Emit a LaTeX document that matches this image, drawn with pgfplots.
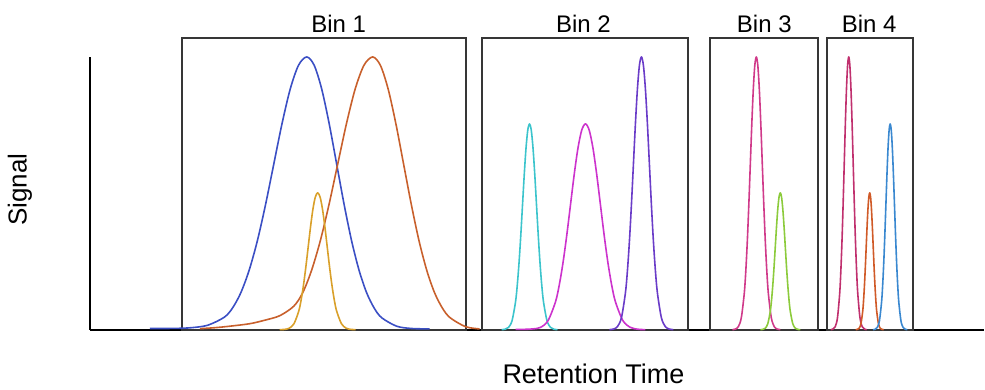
\documentclass[border=0pt]{standalone}
\usepackage{pgfplots}
\pgfplotsset{compat=1.18}
\usepackage{fontspec}
\setmainfont{Liberation Sans}

\definecolor{cBlueA}{HTML}{3B4FC4}
\definecolor{cOrangeA}{HTML}{C8602C}
\definecolor{cGold}{HTML}{D9A02A}
\definecolor{cCyan}{HTML}{3CC4CC}
\definecolor{cMagenta}{HTML}{CC33CC}
\definecolor{cPurple}{HTML}{6A3CC8}
\definecolor{cPink}{HTML}{D03A8A}
\definecolor{cGreen}{HTML}{8CCB3C}
\definecolor{cCrimson}{HTML}{C0306E}
\definecolor{cOrangeB}{HTML}{D05A28}
\definecolor{cBlueB}{HTML}{3A88D0}
\definecolor{boxgray}{HTML}{363636}

\begin{document}
\begin{tikzpicture}
\begin{axis}[
  x=1pt, y=1pt,
  xmin=90, xmax=985, ymin=0, ymax=273,
  axis x line=bottom, axis y line=left,
  axis line style={-, line width=1.8pt, black},
  xtick=\empty, ytick=\empty,
  clip=false,
  every axis plot/.append style={smooth, line width=1.6pt, line join=round, mark=none},
]
% invisible frame fixing the picture size
\path (axis cs:0,-60) rectangle (axis cs:985,330);

% bin boxes
\draw[boxgray, line width=2pt] (axis cs:182,0) rectangle (axis cs:466,292);
\draw[boxgray, line width=2pt] (axis cs:482,0) rectangle (axis cs:689,292);
\draw[boxgray, line width=2pt] (axis cs:711,0) rectangle (axis cs:819,292);
\draw[boxgray, line width=2pt] (axis cs:828,0) rectangle (axis cs:914,292);

% bin titles
\node[anchor=base, font=\fontsize{24}{28}\selectfont] at (axis cs:339,297) {Bin 1};
\node[anchor=base, font=\fontsize{24}{28}\selectfont] at (axis cs:584,297) {Bin 2};
\node[anchor=base, font=\fontsize{24}{28}\selectfont] at (axis cs:765,297) {Bin 3};
\node[anchor=base, font=\fontsize{24}{28}\selectfont] at (axis cs:870,297) {Bin 4};

% axis labels
\node[rotate=90, font=\fontsize{26}{30}\selectfont] at (axis cs:20,140) {Signal};
\node[anchor=base, inner sep=0pt, font=\fontsize{27}{31}\selectfont] at (axis cs:594,-54) {Retention Time};

% Bin 1
\addplot[cBlueA] coordinates {
 (150,1.2) (175,1.3) (191.5,2.0) (208,4.5) (224.5,12.5) (232.75,21.7) (241,36.9) (249.25,59.1)
 (257.5,88.6) (265.75,125.0) (274,165.6) (282.25,206.1) (290.5,240.9) (298.75,264.6)
 (307,273) (314.5,264.6) (322,240.9) (329.5,206.1) (337,165.6) (344.5,125.0)
 (352,88.6) (359.5,59.1) (367,36.9) (374.5,21.7) (382,12.0) (397,3.5) (412,1.2) (430,0.8)};
\addplot[cOrangeA] coordinates {
 (200,1.0) (215,2.0) (230,3.5) (250,6) (265,9.5) (280,14) (294,23.5) (303,37) (311.75,59.1)
 (320.5,88.6) (329.25,125.0) (338,165.6) (346.75,206.1) (355.5,240.9) (364.25,264.6)
 (373,273) (380.75,264.6) (388.5,240.9) (396.25,206.1) (404,165.6) (411.75,125.0)
 (419.5,88.6) (427.25,59.1) (435,36.9) (442.75,21.7) (450.5,12.0) (466,3.0) (480,0.8)};
\addplot[cGold] coordinates {
 (280,0.04) (284.75,0.3) (289.5,1.5) (294.25,6.0) (299,18.5) (301.375,29.6)
 (303.75,44.5) (306.125,62.7) (308.5,83.1) (310.875,103.4) (313.25,120.9)
 (315.625,132.8) (318,137) (320.375,132.8) (322.75,120.9) (325.125,103.4)
 (327.5,83.1) (329.875,62.7) (332.25,44.5) (334.625,29.6) (337,18.5)
 (341.75,6.0) (346.5,1.5) (351.25,0.3) (356,0.04)};

% Bin 2
\addplot[cCyan] coordinates {
 (502,0.06) (505.5,0.45) (509,2.3) (512.5,9.0) (516,27.9) (517.75,44.6)
 (519.5,66.9) (521.25,94.3) (523,124.9) (524.75,155.5) (526.5,181.8) (528.25,199.7)
 (530,206) (531.75,199.7) (533.5,181.8) (535.25,155.5) (537,124.9) (538.75,94.3)
 (540.5,66.9) (542.25,44.6) (544,27.9) (547.5,9.0) (551,2.3) (554.5,0.45) (558,0.06)};
\addplot[cMagenta] coordinates {
 (516,0.3) (526,0.4) (533.5,0.8) (541,2.3) (548.5,9.0) (556,27.9) (559.75,44.6)
 (563.5,66.9) (567.25,94.3) (571,124.9) (574.75,155.5) (578.5,181.8) (582.25,199.7)
 (586,206) (589.75,199.7) (593.5,181.8) (597.25,155.5) (601,124.9) (604.75,94.3)
 (608.5,66.9) (612.25,44.6) (616,27.9) (623.5,9.0) (631,2.3) (638.5,0.45) (646,0.06)};
\addplot[cPurple] coordinates {
 (610,0.08) (614,0.6) (618,3.0) (622,12.0) (626,36.9) (628,59.1) (630,88.6)
 (632,125.0) (634,165.6) (636,206.1) (638,240.9) (640,264.6) (642,273)
 (644,264.6) (646,240.9) (648,206.1) (650,165.6) (652,125.0) (654,88.6)
 (656,59.1) (658,36.9) (662,12.0) (666,3.0) (670,0.6) (674,0.08)};

% Bin 3
\addplot[cPink] coordinates {
 (733,0.08) (736,0.6) (739,3.0) (742,12.0) (745,36.9) (746.5,59.1) (748,88.6)
 (749.5,125.0) (751,165.6) (752.5,206.1) (754,240.9) (755.5,264.6) (757,273)
 (758.5,264.6) (760,240.9) (761.5,206.1) (763,165.6) (764.5,125.0) (766,88.6)
 (767.5,59.1) (769,36.9) (772,12.0) (775,3.0) (778,0.6) (781,0.08)};
\addplot[cGreen] coordinates {
 (761,0.04) (763.5,0.3) (766,1.5) (768.5,6.0) (771,18.5) (772.25,29.6)
 (773.5,44.5) (774.75,62.7) (776,83.1) (777.25,103.4) (778.5,120.9) (779.75,132.8)
 (781,137) (782.25,132.8) (783.5,120.9) (784.75,103.4) (786,83.1) (787.25,62.7)
 (788.5,44.5) (789.75,29.6) (791,18.5) (793.5,6.0) (796,1.5) (798.5,0.3) (801,0.04)};

% Bin 4
\addplot[cCrimson] coordinates {
 (831.5,0.08) (833.75,0.6) (836,3.0) (838.25,12.0) (840.5,36.9) (841.625,59.1)
 (842.75,88.6) (843.875,125.0) (845,165.6) (846.125,206.1) (847.25,240.9)
 (848.375,264.6) (849.5,273) (850.625,264.6) (851.75,240.9) (852.875,206.1)
 (854,165.6) (855.125,125.0) (856.25,88.6) (857.375,59.1) (858.5,36.9)
 (860.75,12.0) (863,3.0) (865.25,0.6) (867.5,0.08)};
\addplot[cOrangeB] coordinates {
 (856.5,0.04) (858.25,0.3) (860,1.5) (861.75,6.0) (863.5,18.5) (864.375,29.6)
 (865.25,44.5) (866.125,62.7) (867,83.1) (867.875,103.4) (868.75,120.9)
 (869.625,132.8) (870.5,137) (871.375,132.8) (872.25,120.9) (873.125,103.4)
 (874,83.1) (874.875,62.7) (875.75,44.5) (876.625,29.6) (877.5,18.5)
 (879.25,6.0) (881,1.5) (882.75,0.3) (884.5,0.04)};
\addplot[cBlueB] coordinates {
 (873.8,0.06) (875.95,0.45) (878.1,2.3) (880.25,9.0) (882.4,27.9) (883.475,44.6)
 (884.55,66.9) (885.625,94.3) (886.7,124.9) (887.775,155.5) (888.85,181.8)
 (889.925,199.7) (891,206) (892.075,199.7) (893.15,181.8) (894.225,155.5)
 (895.3,124.9) (896.375,94.3) (897.45,66.9) (898.525,44.6) (899.6,27.9)
 (901.75,9.0) (903.9,2.3) (906.05,0.45) (908.2,0.06)};
\end{axis}
\end{tikzpicture}
\end{document}
